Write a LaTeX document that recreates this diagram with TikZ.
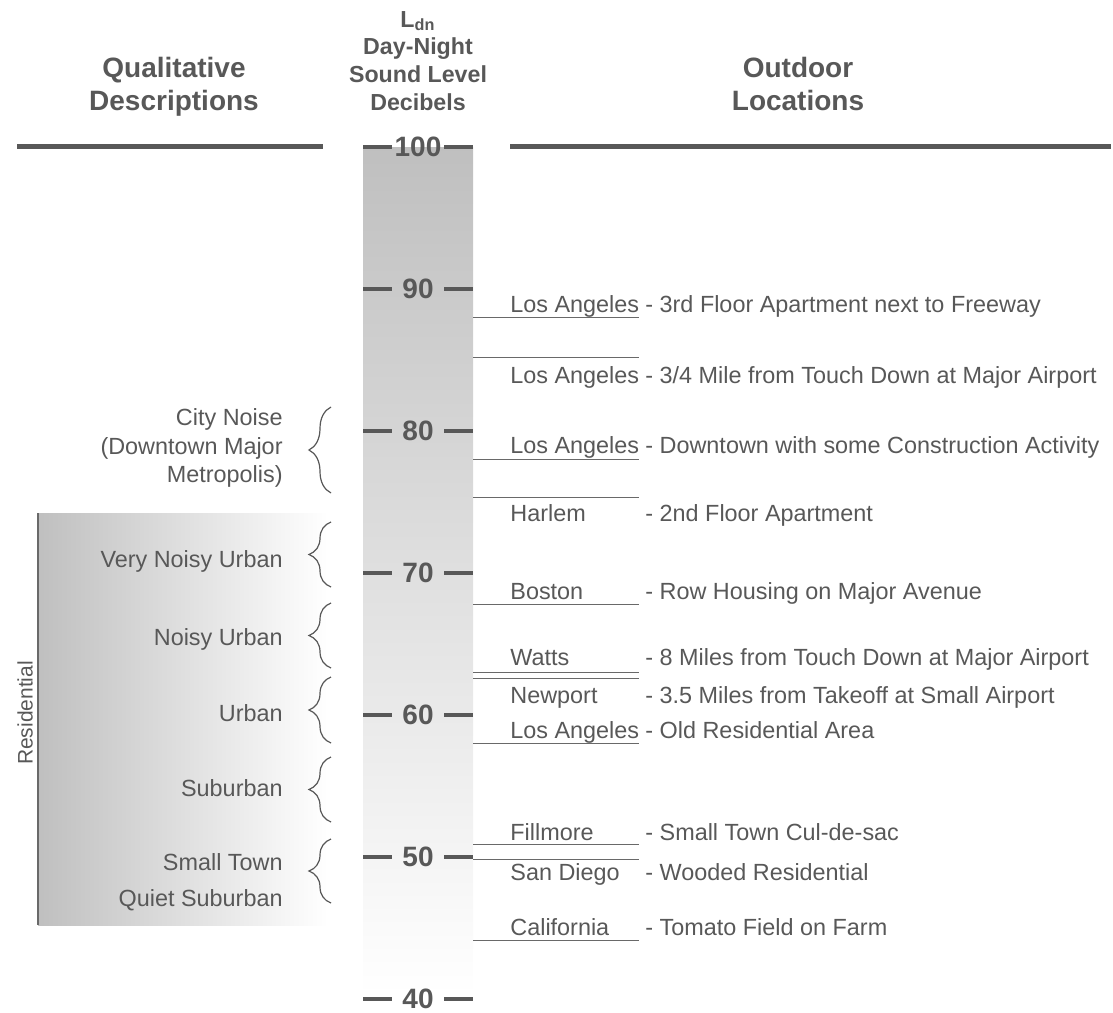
\documentclass[tikz,border=0pt]{standalone}
\usepackage{fontspec}
\setmainfont{Liberation Sans}
\usetikzlibrary{decorations.pathreplacing}
\definecolor{ink}{RGB}{88,88,88}
\definecolor{rulegray}{RGB}{105,105,105}
\tikzset{
	every node/.style = {text=ink, inner sep=0pt},
	header/.style = {font=\bfseries\fontsize{14}{16.5}\selectfont, align=center},
	scalehead/.style = {font=\bfseries\fontsize{11.6}{13.9}\selectfont, align=center},
	level/.style = {font=\bfseries\fontsize{14}{16}\selectfont},
	tickmark/.style = {line width=2pt, draw=ink},
	headrule/.style = {line width=2.5pt, draw=ink},
	levelline/.style = {line width=0.5pt, draw=rulegray},
	qual/.style = {font=\fontsize{11.7}{14.25}\selectfont, align=right, anchor=east},
	place/.style = {font=\fontsize{11.7}{14}\selectfont, anchor=base west},
	grp/.style = {draw=ink, line width=0.6pt, decorate, decoration={brace, amplitude=11pt}}
}

\begin{document}
\begin{tikzpicture}[x={(0.5pt,0)}, y={(0,-0.5pt)}]
	\useasboundingbox (0,0) rectangle (1113,1012);
	% shaded areas
	\fill[left color=black!25, right color=white] (38,513) rectangle (328,925);
	\fill[top color=black!25, bottom color=white] (363,147) rectangle (473,995);
	\draw[line width=1pt, draw=rulegray] (38,513) -- (38,925);
	% headers
	\node[header] (qualhead) at (174,87) {Qualitative\\Descriptions};
	\node[header] (outhead) at (798,84) {Outdoor\\Locations};
	\node[scalehead] (ldnhead) at (418,61) {L\textsubscript{dn}\\Day-Night\\Sound Level\\Decibels};
	\draw[headrule] (17,146) -- (323,146);
	\draw[headrule] (510,146) -- (1111,146);
	% scale
	\foreach \v in {100,90,...,40} {
		\pgfmathsetmacro\yy{147+(100-\v)*14.2}
		\draw[tickmark] (363,\yy) -- (392,\yy);
		\draw[tickmark] (444,\yy) -- (473,\yy);
		\node[level] (lv\v) at (418,\yy) {\v};
	}
	% qualitative descriptions
	\node[qual] (city) at (283,448) {City Noise\\(Downtown Major\\Metropolis)};
	\node[qual, anchor=base east] (vnoisy) at (283,567) {Very Noisy Urban};
	\node[qual, anchor=base east] (noisy) at (283,645) {Noisy Urban};
	\node[qual, anchor=base east] (urban) at (283,721) {Urban};
	\node[qual, anchor=base east] (suburb) at (283,796) {Suburban};
	\node[qual, font=\fontsize{11.7}{18}\selectfont] (town) at (283,882) {Small Town\\Quiet Suburban};
	\foreach \a/\b in {407/493, 522/587, 603/668, 677/743, 757/822, 839/903}
		\draw[grp] (331,\b) -- (331,\a);
	\node[rotate=90, font=\fontsize{10.5}{12}\selectfont] (resid) at (25,713) {Residential};
	% outdoor locations
	\foreach \yl in {317,357,459,497,604,672,678,743,844,859,940}
		\draw[levelline] (473,\yl) -- (639,\yl);
	\foreach \i/\yb/\where/\what in {
		1/312/{Los Angeles}/{- 3rd Floor Apartment next to Freeway},
		2/383/{Los Angeles}/{- 3/4 Mile from Touch Down at Major Airport},
		3/453/{Los Angeles}/{- Downtown with some Construction Activity},
		4/521/{Harlem}/{- 2nd Floor Apartment},
		5/599/{Boston}/{- Row Housing on Major Avenue},
		6/665/{Watts}/{- 8 Miles from Touch Down at Major Airport},
		7/703/{Newport}/{- 3.5 Miles from Takeoff at Small Airport},
		8/738/{Los Angeles}/{- Old Residential Area},
		9/840/{Fillmore}/{- Small Town Cul-de-sac},
		10/880/{San Diego}/{- Wooded Residential},
		11/935/{California}/{- Tomato Field on Farm}} {
		\node[place] (loc\i) at (510,\yb) {\where};
		\node[place] (desc\i) at (645,\yb) {\what};
	}
\end{tikzpicture}
\end{document}
